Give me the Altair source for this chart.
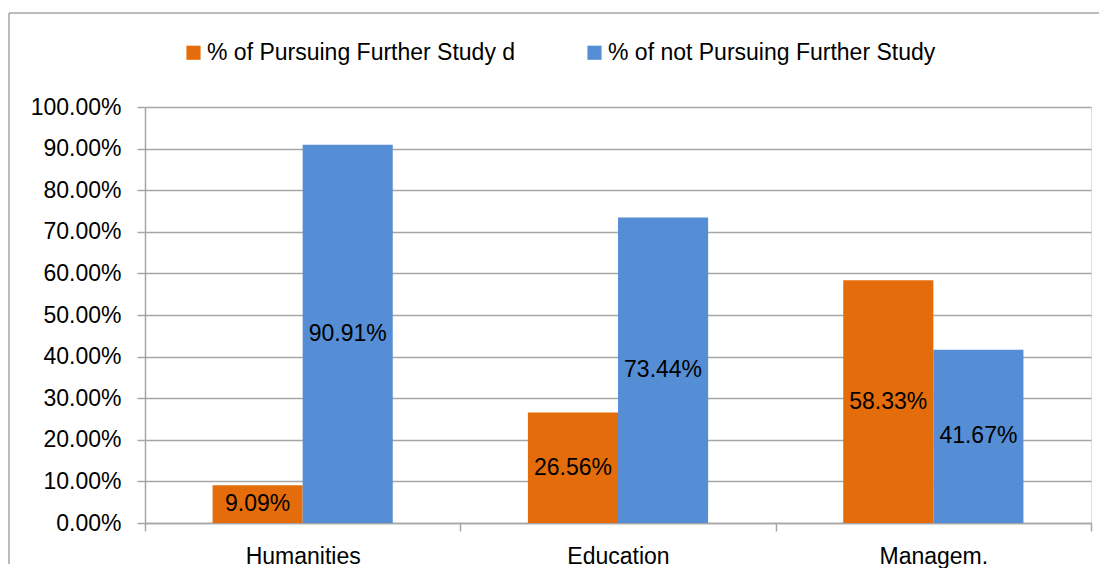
import altair as alt
import pandas as pd

categories = ["Humanities", "Education", "Managem."]
series = ["% of Pursuing Further Study d", "% of not Pursuing Further Study"]
pursuing = [0.0909, 0.2656, 0.5833]
not_pursuing = [0.9091, 0.7344, 0.4167]
colors = ["#E46C0A", "#558ED5"]
y_ticks = [0.0, 0.1, 0.2, 0.3, 0.4, 0.5, 0.6, 0.7, 0.8, 0.9, 1.0]

rows = []
for i, c in enumerate(categories):
    rows.append({"cat": c, "series": series[0], "value": pursuing[i], "order": 0})
    rows.append({"cat": c, "series": series[1], "value": not_pursuing[i], "order": 1})
df = pd.DataFrame(rows)

FONT = "Liberation Sans"
W, H = 946, 416

x_enc = alt.X("cat:N", sort=categories, title=None,
              scale=alt.Scale(paddingInner=0, paddingOuter=0),
              axis=alt.Axis(tickBand="extent", labelAngle=0, labelFontSize=23,
                            labelFont=FONT, labelColor="#000000", labelPadding=14,
                            tickSize=8, tickColor="#a6a6a6", tickWidth=1.5,
                            domainColor="#a6a6a6", domainWidth=1.5, grid=False))
xo_enc = alt.XOffset("series:N", sort=series,
                     scale=alt.Scale(paddingInner=0, paddingOuter=0.75))

base = alt.Chart(df)

bars = base.mark_bar().encode(
    x=x_enc,
    xOffset=xo_enc,
    y=alt.Y("value:Q", title=None,
            scale=alt.Scale(domain=[0, 1]),
            axis=alt.Axis(values=y_ticks, format=".2%", labelFontSize=23,
                          labelFont=FONT, labelColor="#000000", labelPadding=16,
                          tickSize=8, tickColor="#a6a6a6", tickWidth=1.5,
                          domainColor="#a6a6a6", domainWidth=1.5,
                          gridColor="#a6a6a6", gridWidth=1.5)),
    color=alt.Color("series:N", sort=series,
                    scale=alt.Scale(domain=series, range=colors),
                    legend=alt.Legend(title=None, orient="none", direction="horizontal",
                                      legendX=37, legendY=-66, symbolType="square",
                                      symbolSize=200, symbolStrokeWidth=0,
                                      labelFontSize=23, labelFont=FONT,
                                      labelColor="#000000", labelLimit=0,
                                      columnPadding=67, labelOffset=2)),
)

labels = base.transform_calculate(mid="datum.value / 2").mark_text(
    fontSize=23, font=FONT, color="#000000", baseline="middle"
).encode(
    x=alt.X("cat:N", sort=categories),
    xOffset=alt.XOffset("series:N", sort=series),
    y=alt.Y("mid:Q"),
    text=alt.Text("value:Q", format=".2%"),
)

frame_data = alt.Data(values=[{"k": 1}])
frame_left = alt.Chart(frame_data).mark_rule(color="#a6a6a6", strokeWidth=1.5).encode(
    x=alt.value(-136), y=alt.value(-94), y2=alt.value(457))
frame_top = alt.Chart(frame_data).mark_rule(color="#a6a6a6", strokeWidth=1.5).encode(
    x=alt.value(-136), x2=alt.value(954), y=alt.value(-94))

chart = alt.layer(bars, labels, frame_left, frame_top).properties(
    width=W, height=H,
    padding={"left": 0, "top": 4, "right": 0, "bottom": 0},
).configure_view(strokeWidth=0).configure(background="#ffffff")

chart.save("out.html", embed_options={"renderer": "svg", "actions": False})
